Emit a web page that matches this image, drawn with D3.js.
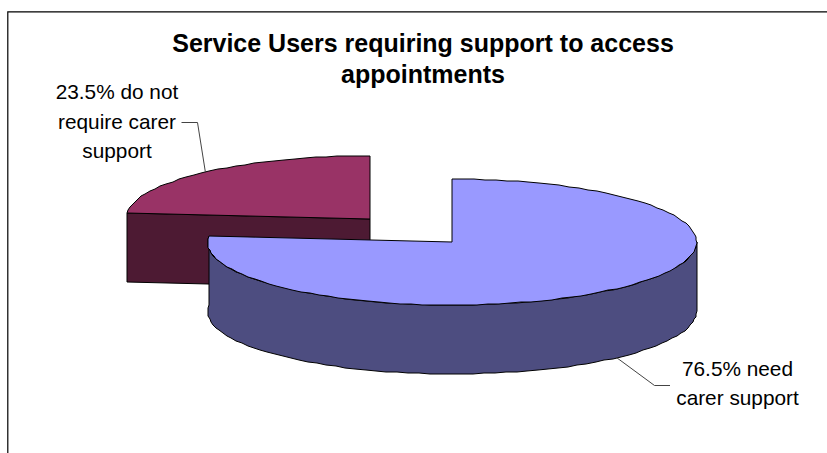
<!DOCTYPE html>
<html>
<head>
<meta charset="utf-8">
<title>Service Users requiring support to access appointments</title>
<script src="https://cdn.jsdelivr.net/npm/d3@7"></script>
<style>
  html, body { margin: 0; padding: 0; background: #fff; overflow: hidden; }
  text { font-family: "Liberation Sans", Arial, sans-serif; fill: #000; }
</style>
</head>
<body>
<svg id="chart" width="827" height="453"></svg>
<script>
// Share of service users by carer support need
const categories = ["need", "doNot"];
const shares = [76.5, 23.5];
const topColours = ["#9999ff", "#993366"];
const sideColours = ["#4d4d80", "#4d1a33"];
const titleLines = ["Service Users requiring support to access", "appointments"];
const labelLines = [["76.5% need", "carer support"], ["23.5% do not", "require carer", "support"]];

// Pie geometry: an ellipse for the tilted disc, with slices pulled out from the hub
const hub = { x: 411, y: 230.4 };
const radiusX = 244.5;
const radiusY = 63;
const depth = 69;
const explode = 61;
const stepDeg = 2.6;

const svg = d3.select("#chart");

// Chart area border, open along the right and bottom page edges
svg.append("path")
  .attr("d", "M7.8,453V11.8H827")
  .attr("fill", "none")
  .attr("stroke", "#000")
  .attr("stroke-width", 1.2);

const slices = d3.pie().sort(null).value(d => d)(shares);

const project = (cx, cy, a, dz = 0) => [
  Math.round(cx + radiusX * Math.sin(a)),
  Math.round(cy - radiusY * Math.cos(a) + dz)
];

// Points along the rim between two angles, spaced like a flattened curve
const rim = (cx, cy, a0, a1, dz = 0) => {
  const n = Math.max(1, Math.ceil((a1 - a0) / (stepDeg * Math.PI / 180)));
  return d3.range(n + 1).map(i => project(cx, cy, a0 + (a1 - a0) * i / n, dz));
};

const poly = d3.line().curve(d3.curveLinearClosed);

const geometry = slices.map(s => {
  const mid = (s.startAngle + s.endAngle) / 2;
  return {
    s,
    mid,
    cx: hub.x + explode * Math.sin(mid),
    cy: hub.y - explode * Math.cos(mid) * radiusY / radiusX
  };
});

// Back slice first, so the larger slice overlaps it
const order = [1, 0];
const layers = svg.selectAll("g.slice").data(order.map(i => ({ ...geometry[i], i }))).join("g").attr("class", "slice");

layers.each(function (d) {
  const g = d3.select(this);
  const { s, cx, cy, i } = d;
  const strokeAttrs = sel => sel.attr("stroke", "#000").attr("stroke-width", 1).attr("stroke-linejoin", "round");

  if (i === 1) {
    // Flat cut face, running from the centre out to the slice's start angle
    const a = project(cx, cy, s.startAngle);
    const c = [Math.round(cx), Math.round(cy)];
    g.append("path")
      .attr("d", poly([a, c, [c[0], c[1] + depth], [a[0], a[1] + depth]]))
      .attr("fill", sideColours[i])
      .call(strokeAttrs);
  } else {
    // Curved outer wall on the visible front half of the rim
    const a0 = Math.PI / 2;
    const a1 = s.endAngle;
    const top = rim(cx, cy, a0, a1);
    const bottom = rim(cx, cy, a0, a1, depth).reverse();
    g.append("path")
      .attr("d", poly(top.concat(bottom)))
      .attr("fill", sideColours[i])
      .call(strokeAttrs);
  }

  // Top face of the slice
  const c = [Math.round(cx), Math.round(cy)];
  g.append("path")
    .attr("d", poly([c].concat(rim(cx, cy, s.startAngle, s.endAngle))))
    .attr("fill", topColours[i])
    .call(strokeAttrs);
});

// Leader lines between each label and the middle of its slice's rim
const leader = d3.line();
const edgePoint = (g, dz = 0) => [
  g.cx + radiusX * Math.sin(g.mid),
  g.cy - radiusY * Math.cos(g.mid) + dz
];
svg.append("path")
  .attr("d", leader([edgePoint(geometry[0], depth), [654.5, 385.5], [670, 385.5]]))
  .attr("fill", "none").attr("stroke", "#444").attr("stroke-width", 1);
svg.append("path")
  .attr("d", leader([edgePoint(geometry[1]), [197.5, 122.5], [181.5, 122.5]]))
  .attr("fill", "none").attr("stroke", "#444").attr("stroke-width", 1);

// Title
svg.append("text")
  .attr("text-anchor", "middle")
  .attr("font-weight", "bold")
  .attr("font-size", 25)
  .selectAll("tspan").data(titleLines).join("tspan")
  .attr("x", 423)
  .attr("y", (d, i) => 52 + i * 31)
  .text(d => d);

// Slice labels
const labelAnchors = [{ x: 737.5, y: 375.5 }, { x: 117, y: 99 }];
labelLines.forEach((lines, i) => {
  svg.append("text")
    .attr("class", categories[i])
    .attr("text-anchor", "middle")
    .attr("font-size", 20.8)
    .selectAll("tspan").data(lines).join("tspan")
    .attr("x", labelAnchors[i].x)
    .attr("y", (d, k) => labelAnchors[i].y + k * 29.5)
    .text(d => d);
});
</script>
</body>
</html>
